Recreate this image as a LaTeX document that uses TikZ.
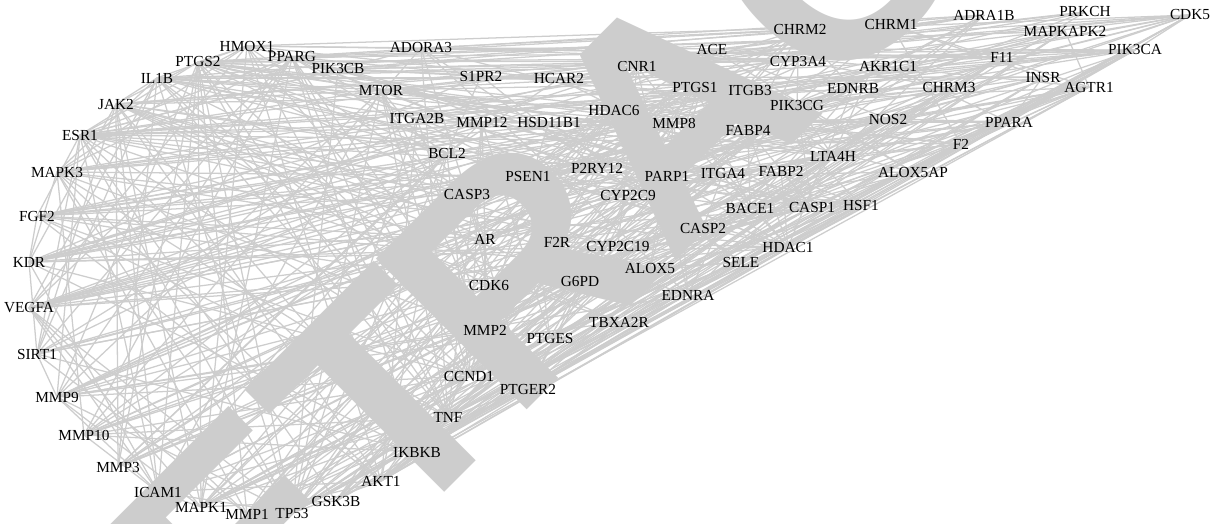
\documentclass[tikz,border=0pt]{standalone}
\usepackage{fontspec}
\setmainfont{Liberation Serif}
\newfontfamily\wmfont{Liberation Sans}
\pgfdeclarelayer{bg}
\pgfsetlayers{bg,main}
\definecolor{edgegray}{RGB}{205,205,205}
\begin{document}
\begin{tikzpicture}[x=0.75pt,y=-0.75pt,
  lbl/.style={font=\fontsize{11.5}{12}\selectfont, inner sep=0pt, text=black},
  edge/.style={draw=edgegray, line width=0.95pt}]
\useasboundingbox (0,0) rectangle (1212,524);
\foreach \nm/\x/\y/\w [count=\i] in {
HMOX1/247/46/.7, PTGS2/198/62/.9, PPARG/292/57/.85, PIK3CB/338/69/.55,
IL1B/157/78/.9, JAK2/116/104/.75, ESR1/80/135/.85, MAPK3/57/172/.95,
FGF2/37/216/.75, KDR/29/262/.75, VEGFA/29/308/1, SIRT1/37/354/.8,
MMP9/57/397/.95, MMP10/84/435/.45, MMP3/118/467/.65, ICAM1/158/492/.8,
MAPK1/201/507/.95, MMP1/247/514/.6, TP53/292/513/1, GSK3B/336/501/.8,
AKT1/381/481/1, IKBKB/417/452/.6, TNF/448/417/1, CCND1/469/376/.8,
PTGER2/528/389/.45, MMP2/485/330/.85, PTGES/550/338/.45, TBXA2R/619/322/.4,
CDK6/489/285/.5, G6PD/580/281/.35, EDNRA/688/295/.45, ALOX5/650/268/.5,
SELE/741/262/.55, HDAC1/788/247/.6, CYP2C19/618/246/.35, F2R/557/242/.5,
AR/485/239/.7, CASP2/703/228/.4, CASP3/467/194/.95, CYP2C9/628/195/.4,
BACE1/750/208/.45, CASP1/812/207/.6, HSF1/861/205/.45, ALOX5AP/913/172/.35,
LTA4H/833/156/.35, FABP2/781/171/.3, ITGA4/723/173/.5, PARP1/667/176/.65,
P2RY12/597/168/.4, PSEN1/528/176/.55, BCL2/447/153/.85, MMP12/482/122/.45,
HSD11B1/549/122/.35, ITGA2B/417/118/.5, MTOR/381/90/.85, HDAC6/614/110/.5,
MMP8/674/123/.5, FABP4/748/130/.45, PTGS1/695/87/.5, ITGB3/750/90/.6,
PIK3CG/797/105/.55, NOS2/888/119/.6, F2/961/144/.6, PPARA/1009/122/.6,
CHRM3/949/88/.4, EDNRB/853/89/.45, AKR1C1/888/66/.3, INSR/1043/77/.6,
AGTR1/1089/87/.6, F11/1002/57/.4, PIK3CA/1135/50/.8, MAPKAPK2/1065/31/.45,
PRKCH/1085/12/.3, CDK5/1190/15/.45, ADRA1B/984/15/.4, CHRM1/891/25/.45,
CHRM2/800/30/.45, CYP3A4/798/61/.45, ACE/712/50/.6, CNR1/637/67/.45,
HCAR2/559/79/.35, S1PR2/481/76/.35, ADORA3/421/48/.45} {
  \node[lbl, alias=n\i] (\nm) at (\x,\y) {\nm};
  \expandafter\xdef\csname wt\i\endcsname{\w}
}
\begin{pgfonlayer}{bg}
  \begin{scope}
    \clip (0,0) rectangle (1212,524);
    \node[rotate=45, anchor=base, inner sep=0pt, text=edgegray,
      font=\wmfont\bfseries\fontsize{232.5}{232.5}\selectfont] (wm) at (757,180) {RET\kern-16ptRACTED};
  \end{scope}
  \pgfmathsetseed{2024}
  \foreach \i in {1,...,82} {
    \pgfmathtruncatemacro\js{\i+1}
    \edef\wi{\csname wt\i\endcsname}
    \foreach \j in {\js,...,83} {
      \edef\wj{\csname wt\j\endcsname}
      \pgfmathsetmacro\pp{0.5*\wi*\wj}
      \pgfmathsetmacro\rr{rnd}
      \ifdim\rr pt<\pp pt \draw[edge] (n\i.center) -- (n\j.center); \fi
    }
  }
\end{pgfonlayer}
\end{tikzpicture}
\end{document}
